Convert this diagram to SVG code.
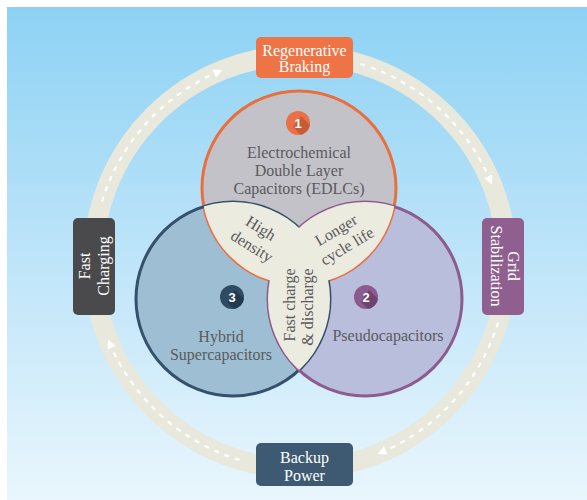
<svg xmlns="http://www.w3.org/2000/svg" width="587" height="500" viewBox="0 0 587 500">
<defs>
<linearGradient id="bg" x1="0" y1="0" x2="0" y2="1">
<stop offset="0" stop-color="#8dd2f4"/>
<stop offset="0.5" stop-color="#bde4f9"/>
<stop offset="1" stop-color="#e9f6fd"/>
</linearGradient>
<marker id="ah" viewBox="0 0 10 10" refX="2" refY="5" markerWidth="9" markerHeight="9" markerUnits="userSpaceOnUse" orient="auto"><path d="M0,0 L10,5 L0,10 z" fill="#ffffff"/></marker>
<clipPath id="cL"><circle cx="233" cy="299" r="97"/></clipPath>
<clipPath id="cR"><circle cx="365" cy="299" r="97"/></clipPath>
<clipPath id="b1"><circle cx="298" cy="123" r="12"/></clipPath>
<clipPath id="b2"><circle cx="366" cy="297" r="12"/></clipPath>
<clipPath id="b3"><circle cx="232" cy="297" r="12"/></clipPath>
</defs>
<style>
text { font-family: "Liberation Serif", "DejaVu Serif", serif; font-size: 16px; text-anchor: middle; dominant-baseline: central; }
.lbl { fill: #5a5a5c; }
.box { fill: #ffffff; }
.num { font-family: "Liberation Sans", Arial, sans-serif; font-weight: bold; font-size: 13px; fill: #ffffff; }
.dash { fill: none; stroke: #ffffff; stroke-width: 2.2; stroke-dasharray: 5 6; marker-end: url(#ah); }
.ol { fill: none; stroke-width: 3; }
.lap { fill: #ecebdf; }
</style>
<rect x="0" y="0" width="587" height="500" fill="#ffffff"/>
<rect x="7" y="7" width="580" height="493" fill="url(#bg)"/>

<g id="connectors">
<circle cx="300" cy="262" r="207" fill="none" stroke="#e8e8dc" stroke-width="20"/>
<path class="dash" d="M360.5,64 A207,207 0 0 1 489.1,177.8"/>
<path class="dash" d="M498,322.5 A207,207 0 0 1 384.2,451.1"/>
<path class="dash" d="M239.5,460 A207,207 0 0 1 110.9,346.2"/>
<path class="dash" d="M102,201.5 A207,207 0 0 1 215.8,72.9"/>
</g>

<g id="node-regenerative-braking">
<rect x="256" y="37" width="97" height="41" rx="5" fill="#ee7446"/>
<text class="box" x="304.5" y="50">Regenerative</text>
<text class="box" x="304.5" y="66">Braking</text>
</g>
<g id="node-grid-stabilization">
<rect x="482" y="218" width="42" height="97" rx="5" fill="#8f5f8f"/>
<text class="box" transform="translate(513,266) rotate(90)">Grid</text>
<text class="box" transform="translate(496,266) rotate(90)">Stabilization</text>
</g>
<g id="node-backup-power">
<rect x="256" y="443" width="97" height="43" rx="5" fill="#3e5a72"/>
<text class="box" x="304.5" y="457">Backup</text>
<text class="box" x="304.5" y="475">Power</text>
</g>
<g id="node-fast-charging">
<rect x="73" y="218" width="42" height="97" rx="5" fill="#4a4a4c"/>
<text class="box" transform="translate(84,266) rotate(-90)">Fast</text>
<text class="box" transform="translate(103,266) rotate(-90)">Charging</text>
</g>

<g id="node-edlc">
<circle cx="299" cy="188" r="97" fill="#c3c2c9"/>
<circle cx="298" cy="123" r="12" fill="#ec6f45"/>
<polygon points="293,127 301,116 325,140 317,152" fill="#c75a37" clip-path="url(#b1)"/>
<text class="num" x="298" y="123">1</text>
<text class="lbl" x="299" y="152">Electrochemical</text>
<text class="lbl" x="299" y="170">Double Layer</text>
<text class="lbl" x="299" y="188">Capacitors (EDLCs)</text>
</g>
<g id="node-hybrid">
<circle cx="233" cy="299" r="97" fill="#9ebfd3"/>
<circle cx="232" cy="297" r="12" fill="#2f4b63"/>
<polygon points="227,302 235,290 259,314 251,326" fill="#223a4e" clip-path="url(#b3)"/>
<text class="num" x="232" y="297">3</text>
<text class="lbl" x="221" y="336">Hybrid</text>
<text class="lbl" x="221" y="354">Supercapacitors</text>
</g>
<g id="node-pseudo">
<circle cx="365" cy="299" r="97" fill="#b9bedd"/>
<circle cx="366" cy="297" r="12" fill="#8c5b8e"/>
<polygon points="361,302 369,290 393,314 385,326" fill="#6d4470" clip-path="url(#b2)"/>
<text class="num" x="366" y="297">2</text>
<text class="lbl" x="388" y="335">Pseudocapacitors</text>
</g>

<g id="outlines">
<circle class="ol" cx="299" cy="188" r="97" stroke="#e9703e"/>
<circle class="ol" cx="233" cy="299" r="97" stroke="#34506b"/>
<circle class="ol" cx="365" cy="299" r="97" stroke="#8e5b8e"/>
</g>

<g id="overlaps">
<circle class="lap" cx="299" cy="188" r="97" clip-path="url(#cL)"/>
<circle class="lap" cx="299" cy="188" r="97" clip-path="url(#cR)"/>
<circle class="lap" cx="233" cy="299" r="97" clip-path="url(#cR)"/>
</g>
<g id="overlap-high-density">
<text class="lbl" transform="translate(261,228) rotate(32)">High</text>
<text class="lbl" transform="translate(252,246) rotate(32)">density</text>
</g>
<g id="overlap-longer-cycle-life">
<text class="lbl" transform="translate(336,230) rotate(-31)">Longer</text>
<text class="lbl" transform="translate(347,246) rotate(-31)">cycle life</text>
</g>
<g id="overlap-fast-charge">
<text class="lbl" transform="translate(289,305) rotate(-90)">Fast charge</text>
<text class="lbl" transform="translate(307,307) rotate(-90)">&amp; discharge</text>
</g>
</svg>
